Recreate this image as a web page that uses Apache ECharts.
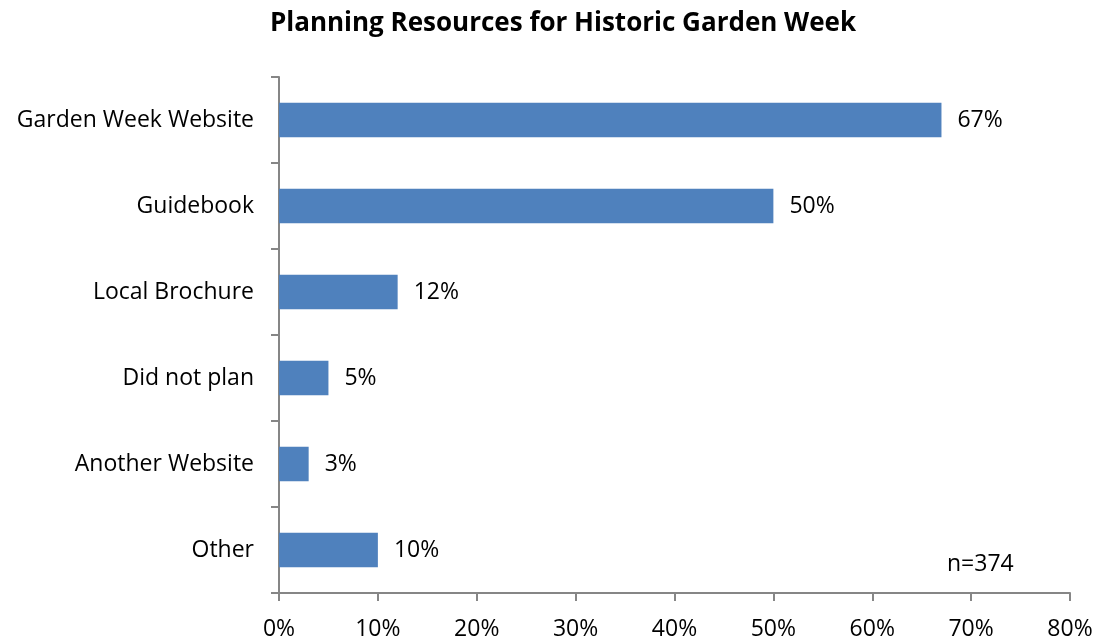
<!DOCTYPE html>
<html>
<head>
<meta charset="utf-8">
<script src="https://cdn.jsdelivr.net/npm/echarts@6/dist/echarts.min.js"></script>
<style>
  html, body { margin: 0; padding: 0; background: #ffffff; }
  #chart { width: 1102px; height: 641px; }
</style>
</head>
<body>
<div id="chart"></div>
<script>
// Survey answers, top to bottom
const categories = ['Garden Week Website', 'Guidebook', 'Local Brochure', 'Did not plan', 'Another Website', 'Other'];
// Share of respondents, percent
const shares = [67, 50, 12, 5, 3, 10];
// Value axis ticks (percent)
const xTicks = [0, 10, 20, 30, 40, 50, 60, 70, 80];
const sampleNote = 'n=374';
const chartTitle = 'Planning Resources for Historic Garden Week';

const FONT = '"Open Sans", "Noto Sans", sans-serif';
const AXIS_GREY = '#868686';

const chart = echarts.init(document.getElementById('chart'), null, { renderer: 'canvas' });

chart.setOption({
  backgroundColor: '#ffffff',
  animation: false,
  title: {
    text: chartTitle,
    left: 558,
    textAlign: 'center',
    top: 6,
    textStyle: { fontFamily: FONT, fontWeight: 'bold', fontSize: 26, color: '#000000' }
  },
  grid: { left: 279, right: 32, top: 77, bottom: 46, containLabel: false },
  xAxis: {
    type: 'value',
    min: xTicks[0],
    max: xTicks[xTicks.length - 1],
    interval: xTicks[1] - xTicks[0],
    axisLine: { show: true, lineStyle: { color: AXIS_GREY, width: 2 } },
    axisTick: { show: true, length: 8, lineStyle: { color: AXIS_GREY, width: 2 } },
    splitLine: { show: false },
    axisLabel: {
      formatter: v => v + '%',
      margin: 25,
      fontFamily: FONT, fontSize: 23, color: '#000000'
    }
  },
  yAxis: {
    type: 'category',
    data: categories,
    inverse: true,
    axisLine: { show: true, lineStyle: { color: AXIS_GREY, width: 2 } },
    axisTick: { show: true, length: 8, lineStyle: { color: AXIS_GREY, width: 2 } },
    axisLabel: { margin: 25, fontFamily: FONT, fontSize: 23, color: '#000000' }
  },
  series: [{
    type: 'bar',
    data: shares,
    barCategoryGap: '60%',
    itemStyle: { color: '#4F81BD' },
    label: {
      show: true,
      position: 'right',
      distance: 16,
      formatter: p => p.value + '%',
      fontFamily: FONT, fontSize: 23, color: '#000000'
    }
  }],
  graphic: [{
    type: 'text',
    left: 947,
    top: 553,
    style: { text: sampleNote, fontFamily: FONT, fontSize: 23, fill: '#000000' }
  }]
});
</script>
</body>
</html>
